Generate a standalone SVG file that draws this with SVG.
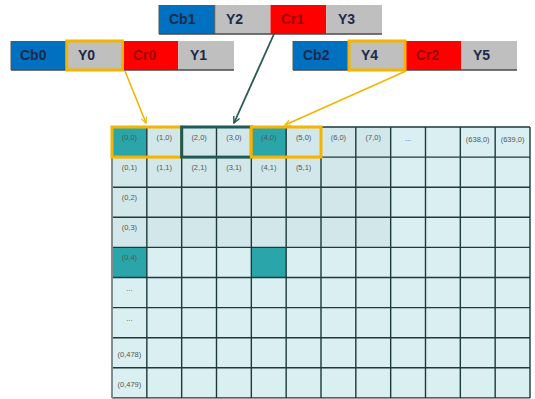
<svg xmlns="http://www.w3.org/2000/svg" width="535" height="399" viewBox="0 0 535 399">
<defs>
<style>
.cb{fill:#0070c0}.y{fill:#bfbfbf}.cr{fill:#ff0000}
.bt{font-family:"Liberation Sans",Arial,sans-serif;font-weight:bold;font-size:14px;fill:#1c2a4a}
.rt{font-family:"Liberation Sans",Arial,sans-serif;font-weight:bold;font-size:14px;fill:#a00000}
.ct{font-family:"Liberation Sans",Arial,sans-serif;font-size:7.5px;fill:#555;text-anchor:middle}
.c1{fill:#d9eff2}.c2{fill:#d2e7ea}.tl{fill:#2aa6aa}
.gl{stroke:#1d3a3a;stroke-width:1.4;fill:none}
.hy{fill:none;stroke:#f4b400;stroke-width:3}
.ht{fill:none;stroke:#1f5a58;stroke-width:3}
.ay{stroke:#f4b400;stroke-width:1.6;fill:none}
.at{stroke:#2a5a55;stroke-width:1.8;fill:none}
.sh{stroke:#4a4a4a;stroke-width:1.5}
</style>
<marker id="my" viewBox="0 0 10 10" refX="9" refY="5" markerWidth="7" markerHeight="7" orient="auto" markerUnits="userSpaceOnUse"><path d="M1,1 L9,5 L1,9" fill="none" stroke="#f4b400" stroke-width="1.6"/></marker>
<marker id="mt" viewBox="0 0 10 10" refX="9" refY="5" markerWidth="8" markerHeight="8" orient="auto" markerUnits="userSpaceOnUse"><path d="M1,1 L9,5 L1,9" fill="none" stroke="#2a5a55" stroke-width="1.8"/></marker>
</defs>
<rect width="535" height="399" fill="#fff"/>

<g id="block1">
<rect class="cb" x="159" y="5" width="55.75" height="29"/>
<rect class="y" x="214.75" y="5" width="55.75" height="29"/>
<rect class="cr" x="270.5" y="5" width="55.75" height="29"/>
<rect class="y" x="326.25" y="5" width="55.75" height="29"/>
<line class="sh" x1="159" y1="34" x2="382" y2="34"/>
<line x1="159" y1="5" x2="159" y2="34" stroke="#555" stroke-width="1"/>
<line x1="214.75" y1="5" x2="214.75" y2="34" stroke="#444" stroke-width="0.8"/>
<text class="bt" x="169" y="24">Cb1</text>
<text class="bt" x="226" y="24">Y2</text>
<text class="rt" x="281" y="24">Cr1</text>
<text class="bt" x="338" y="24">Y3</text>
</g>

<g id="block0">
<rect class="cb" x="11" y="41" width="55.75" height="29"/>
<rect class="y" x="66.75" y="41" width="55.75" height="29"/>
<rect class="cr" x="122.5" y="41" width="55.75" height="29"/>
<rect class="y" x="178.25" y="41" width="55.75" height="29"/>
<line class="sh" x1="11" y1="70" x2="234" y2="70"/>
<line x1="11" y1="41" x2="11" y2="70" stroke="#555" stroke-width="1"/>
<rect class="hy" x="66.75" y="41" width="55.75" height="29"/>
<text class="bt" x="20" y="60">Cb0</text>
<text class="bt" x="78" y="60">Y0</text>
<text class="rt" x="133" y="60">Cr0</text>
<text class="bt" x="190" y="60">Y1</text>
</g>

<g id="block2">
<rect class="cb" x="293" y="41" width="56" height="29"/>
<rect class="y" x="349" y="41" width="56" height="29"/>
<rect class="cr" x="405" y="41" width="56" height="29"/>
<rect class="y" x="461" y="41" width="56" height="29"/>
<line class="sh" x1="293" y1="70" x2="517" y2="70"/>
<line x1="293" y1="41" x2="293" y2="70" stroke="#555" stroke-width="1"/>
<rect class="hy" x="349" y="41" width="56" height="29"/>
<text class="bt" x="303" y="60">Cb2</text>
<text class="bt" x="361" y="60">Y4</text>
<text class="rt" x="416" y="60">Cr2</text>
<text class="bt" x="473" y="60">Y5</text>
</g>

<g id="grid">
<rect class="c1" x="112" y="127" width="418" height="271"/>
<rect class="c2" x="112" y="127" width="278.67" height="120.4"/>
<rect class="tl" x="112" y="127" width="34.83" height="30.1"/>
<rect class="tl" x="251.33" y="127" width="34.83" height="30.1"/>
<rect class="tl" x="112" y="247.4" width="34.83" height="30.1"/>
<rect class="tl" x="251.33" y="247.4" width="34.83" height="30.1"/>
<path class="gl" d="M146.83,127V398M181.67,127V398M216.5,127V398M251.33,127V398M286.17,127V398M321,127V398M355.83,127V398M390.67,127V398M425.5,127V398M460.33,127V398M495.17,127V398M530,127V398
M112,127H530M112,157.1H530M112,187.2H530M112,217.3H530M112,247.4H530M112,277.5H530M112,307.6H530M112,337.7H530M112,367.8H530M112,397.9H530"/>
<line x1="112" y1="127" x2="112" y2="398" stroke="#7d8c8c" stroke-width="2"/>
<g class="ct">
<text x="129.4" y="140">(0,0)</text>
<text x="164.2" y="140">(1,0)</text>
<text x="199.1" y="140">(2,0)</text>
<text x="233.9" y="140">(3,0)</text>
<text x="268.7" y="140">(4,0)</text>
<text x="303.6" y="140">(5,0)</text>
<text x="338.4" y="140">(6,0)</text>
<text x="373.2" y="140">(7,0)</text>
<text x="408.1" y="141">...</text>
<text x="477.7" y="142">(638,0)</text>
<text x="512.6" y="142">(639,0)</text>
<text x="129.4" y="170">(0,1)</text>
<text x="164.2" y="170">(1,1)</text>
<text x="199.1" y="170">(2,1)</text>
<text x="233.9" y="170">(3,1)</text>
<text x="268.7" y="170">(4,1)</text>
<text x="303.6" y="170">(5,1)</text>
<text x="129.4" y="200">(0,2)</text>
<text x="129.4" y="230">(0,3)</text>
<text x="129.4" y="260">(0,4)</text>
<text x="129.4" y="291">...</text>
<text x="129.4" y="321">...</text>
<text x="129.4" y="357">(0,478)</text>
<text x="129.4" y="387">(0,479)</text>
</g>
<rect class="hy" x="112" y="127" width="69.67" height="30.1"/>
<rect class="ht" x="181.67" y="127" width="69.66" height="30.1"/>
<rect class="hy" x="251.33" y="127" width="69.67" height="30.1"/>
</g>

<g id="connectors">
<line class="ay" x1="125" y1="71" x2="146" y2="123" marker-end="url(#my)"/>
<line class="at" x1="274" y1="34" x2="234" y2="123" marker-end="url(#mt)"/>
<line class="ay" x1="406" y1="71" x2="285" y2="125" marker-end="url(#my)"/>
</g>
</svg>
